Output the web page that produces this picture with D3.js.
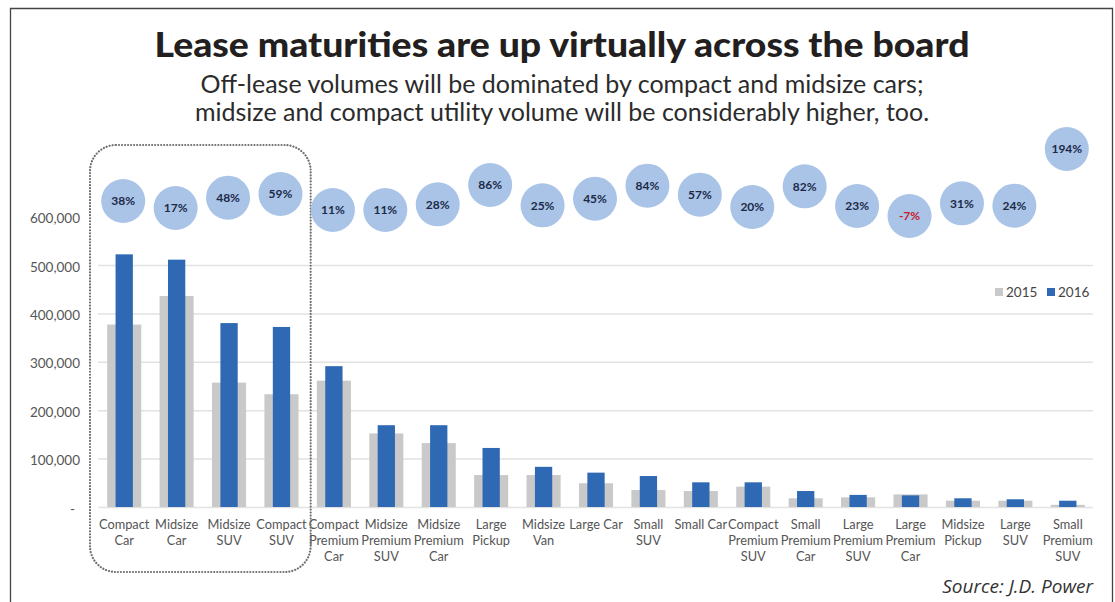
<!DOCTYPE html>
<html>
<head>
<meta charset="utf-8">
<script src="https://cdn.jsdelivr.net/npm/d3@7"></script>
<style>
    body { margin: 0; background: #fff; }
    text { font-family: Lato, "Open Sans", sans-serif; }
</style>
</head>
<body>
<div id="chart"></div>
<script>
const categories = ["Compact Car", "Midsize Car", "Midsize SUV", "Compact SUV", "Compact Premium Car",
    "Midsize Premium SUV", "Midsize Premium Car", "Large Pickup", "Midsize Van", "Large Car", "Small SUV",
    "Small Car", "Compact Premium SUV", "Small Premium Car", "Large Premium SUV", "Large Premium Car",
    "Midsize Pickup", "Large SUV", "Small Premium SUV"];
const values2015 = [377000, 436000, 257000, 233000, 261000, 152000, 132000, 66000, 66000, 49000, 35000,
    33000, 42000, 18000, 20000, 26000, 13000, 13000, 4500];
const values2016 = [522000, 511000, 380000, 372000, 291000, 169000, 169000, 122000, 83000, 71000, 64000,
    51000, 51000, 33000, 25000, 24000, 18000, 16000, 13000];
const pctChange = [38, 17, 48, 59, 11, 11, 28, 86, 25, 45, 84, 57, 20, 82, 23, -7, 31, 24, 194];
const yTicks = [0, 100000, 200000, 300000, 400000, 500000, 600000];
const gridTicks = [0, 100000, 200000, 300000, 400000, 500000];
const seriesNames = ["2015", "2016"];
const seriesColors = ["#c9c9c9", "#2f69b4"];

const width = 1115, height = 602;
const plot = {left: 98, right: 1094, top: 216.6, bottom: 507};

const svg = d3.select("#chart")
    .append("svg")
    .attr("width", width)
    .attr("height", height);

// Frame around the graphic (open at the bottom)
svg.append("path")
    .attr("d", `M10.5,${height} V8.5 H1112.5 V${height}`)
    .attr("fill", "none")
    .attr("stroke", "#444")
    .attr("stroke-width", 1.3);

// Title and subtitle
svg.append("text")
    .attr("x", 562)
    .attr("y", 57)
    .attr("text-anchor", "middle")
    .attr("textLength", 815)
    .attr("lengthAdjust", "spacingAndGlyphs")
    .style("font-size", "34px")
    .style("font-weight", 900)
    .attr("fill", "#231f20")
    .text("Lease maturities are up virtually across the board");

const subtitle = ["Off-lease volumes will be dominated by compact and midsize cars;",
    "midsize and compact utility volume will be considerably higher, too."];
svg.selectAll(".subtitle")
    .data(subtitle)
    .enter()
    .append("text")
    .attr("class", "subtitle")
    .attr("x", 562)
    .attr("y", (d, i) => 93 + i * 27.5)
    .attr("text-anchor", "middle")
    .style("font-size", "25px")
    .attr("fill", "#2b2b2b")
    .text(d => d);

// Scales
const x = d3.scaleBand()
    .domain(categories)
    .range([plot.left, plot.right]);

const y = d3.scaleLinear()
    .domain([0, 600000])
    .range([plot.bottom, plot.top]);

// secondary scale for the percent-change bubbles
const yPct = d3.scaleLinear()
    .domain([0, 200])
    .range([213.7, 147]);

// Horizontal gridlines
svg.append("g")
    .attr("transform", `translate(${plot.left}, 0)`)
    .call(d3.axisLeft(y)
        .tickValues(gridTicks)
        .tickSize(-(plot.right - plot.left - 1))
        .tickFormat(""))
    .call(g => g.select(".domain").remove())
    .selectAll(".tick line")
    .attr("stroke", "#e2e2e2")
    .attr("stroke-width", 1.5);

// Y axis labels
svg.append("g")
    .attr("transform", `translate(${plot.left}, 0)`)
    .call(d3.axisLeft(y)
        .tickValues(yTicks)
        .tickSize(0)
        .tickPadding(18)
        .tickFormat(d => d === 0 ? "-" : d3.format(",")(d)))
    .call(g => g.select(".domain").remove())
    .selectAll(".tick text")
    .attr("fill", "#555")
    .attr("dy", "0.45em")
    .attr("dx", d => d === 0 ? -5 : 0)
    .style("font-size", "13.5px")
    .style("font-family", "Lato, sans-serif");

// Bars: wide grey 2015 behind, narrow blue 2016 in front
const grayW = x.bandwidth() * 0.65;
const blueW = x.bandwidth() * 0.33;

svg.selectAll(".bar2015")
    .data(categories)
    .enter()
    .append("rect")
    .attr("class", "bar2015")
    .attr("x", d => x(d) + (x.bandwidth() - grayW) / 2)
    .attr("y", (d, i) => y(values2015[i]))
    .attr("width", grayW)
    .attr("height", (d, i) => y(0) - y(values2015[i]))
    .attr("fill", seriesColors[0]);

svg.selectAll(".bar2016")
    .data(categories)
    .enter()
    .append("rect")
    .attr("class", "bar2016")
    .attr("x", d => x(d) + (x.bandwidth() - blueW) / 2)
    .attr("y", (d, i) => y(values2016[i]))
    .attr("width", blueW)
    .attr("height", (d, i) => y(0) - y(values2016[i]))
    .attr("fill", seriesColors[1]);

// X axis category labels, one word per line when the label is too wide
const xAxis = svg.append("g")
    .attr("transform", `translate(0, ${plot.bottom})`)
    .call(d3.axisBottom(x).tickSize(0))
    .call(g => g.select(".domain").remove());

xAxis.selectAll(".tick text")
    .attr("fill", "#555")
    .style("font-size", "12.8px")
    .style("font-family", "Lato, sans-serif")
    .attr("y", 22)
    .attr("dy", 0)
    .each(function(d) {
        const t = d3.select(this);
        const full = this.getComputedTextLength();
        const lines = full > x.bandwidth() + 2 ? d.split(" ") : [d];
        t.text(null);
        lines.forEach((w, i) => {
            t.append("tspan")
                .attr("x", 0)
                .attr("dy", i === 0 ? 0 : 16)
                .text(w);
        });
    });

// Dotted highlight around the first four categories
const boxLeft = x(categories[0]) - 8;
const boxRight = x(categories[3]) + x.bandwidth() + 3;
svg.append("rect")
    .attr("x", boxLeft)
    .attr("y", 145)
    .attr("width", boxRight - boxLeft)
    .attr("height", 427)
    .attr("rx", 26)
    .attr("fill", "none")
    .attr("stroke", "#6e6e6e")
    .attr("stroke-width", 2.2)
    .attr("stroke-linecap", "round")
    .attr("stroke-dasharray", "0.01 3");

// Percent-change bubbles
const bubbles = svg.selectAll(".bubble")
    .data(categories)
    .enter()
    .append("g")
    .attr("class", "bubble")
    .attr("transform", (d, i) => `translate(${x(d) + x.bandwidth() / 2 - 1}, ${yPct(pctChange[i])})`);

bubbles.append("circle")
    .attr("r", 22)
    .attr("fill", "#a9c4e7");

bubbles.append("text")
    .attr("text-anchor", "middle")
    .attr("dy", "0.36em")
    .style("font-size", "12px")
    .style("font-weight", "bold")
    .attr("fill", (d, i) => pctChange[i] < 0 ? "#c8202b" : "#1c2a48")
    .text((d, i) => pctChange[i] + "%");

// Legend
const legend = svg.selectAll(".legend")
    .data(seriesNames)
    .enter()
    .append("g")
    .attr("class", "legend")
    .attr("transform", (d, i) => `translate(${995 + i * 52}, 288)`);

legend.append("rect")
    .attr("width", 8)
    .attr("height", 8)
    .attr("fill", (d, i) => seriesColors[i]);

legend.append("text")
    .attr("x", 11)
    .attr("y", 9)
    .style("font-size", "13.5px")
    .attr("fill", "#444")
    .text(d => d);

// Source note
svg.append("text")
    .attr("x", 1093)
    .attr("y", 593)
    .attr("text-anchor", "end")
    .style("font-size", "19px")
    .style("font-style", "italic")
    .style("font-family", "'Open Sans', sans-serif")
    .attr("fill", "#333")
    .text("Source: J.D. Power");
</script>
</body>
</html>
